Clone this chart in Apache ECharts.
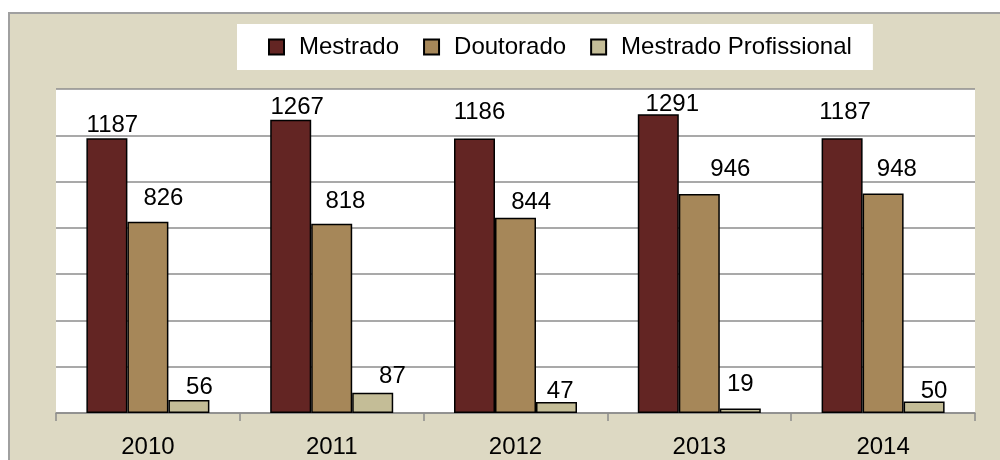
<!DOCTYPE html>
<html>
<head>
<meta charset="utf-8">
<script src="https://cdn.jsdelivr.net/npm/echarts@6/dist/echarts.min.js"></script>
<style>
html,body{margin:0;padding:0;background:#fff;}
#chart{width:1000px;height:460px;}
</style>
</head>
<body>
<div id="chart"></div>
<script>
// ---- data ----
const categories = ['2010', '2011', '2012', '2013', '2014'];
const seriesNames = ['Mestrado', 'Doutorado', 'Mestrado Profissional'];
const mestrado = [1187, 1267, 1186, 1291, 1187];
const doutorado = [826, 818, 844, 946, 948];
const mestradoProf = [56, 87, 47, 19, 50];

// ---- styling / layout (not data) ----
const colors = ['#632523', '#a68759', '#c4bd97'];
const FONT = "'Liberation Sans', Arial, sans-serif";
const FS = 24;
// label shifts [dx, gap above bar] in px, as placed in the original
const labelShifts = [
  [[5.5, 6], [6.5, 5.4], [5, 19], [14, 2], [3, 19]],
  [[15.5, 15.6], [13.7, 15], [15.7, 8.3], [31, 17.6], [13.7, 17.3]],
  [[10.5, 5], [19.7, 9], [3.7, 3.3], [0, 17], [10, 2.3]]
];

const values = [mestrado, doutorado, mestradoProf];

const series = values.map((vals, s) => ({
  name: seriesNames[s],
  type: 'bar',
  barWidth: 41,
  barGap: '0%',
  itemStyle: { color: colors[s], borderColor: '#000', borderWidth: 1.5 },
  label: {
    show: true,
    position: 'top',
    distance: 0,
    color: '#000',
    fontFamily: FONT,
    fontSize: FS
  },
  data: vals.map((v, i) => ({
    value: v,
    label: { offset: [labelShifts[s][i][0], 4.6 - labelShifts[s][i][1]] }
  }))
}));

const chart = echarts.init(document.getElementById('chart'), null, { renderer: 'canvas' });
chart.setOption({
  animation: false,
  backgroundColor: '#ffffff',
  graphic: [{
    type: 'rect',
    z: -100,
    shape: { x: 9, y: 13, width: 1000, height: 460 },
    style: { fill: '#ddd9c3', stroke: '#a0a0a0', lineWidth: 2 }
  }],
  legend: {
    left: 237,
    top: 24,
    backgroundColor: '#ffffff',
    padding: [11, 21, 11, 31],
    itemWidth: 15,
    itemHeight: 15,
    itemGap: 24,
    icon: 'rect',
    textStyle: { fontFamily: FONT, fontSize: FS, color: '#000', padding: [0, 0, 0, 10] },
    data: seriesNames
  },
  grid: {
    left: 56,
    right: 25,
    top: 89,
    bottom: 47,
    show: true,
    backgroundColor: '#ffffff',
    borderWidth: 0
  },
  xAxis: {
    type: 'category',
    data: categories,
    boundaryGap: true,
    axisLine: { show: true, lineStyle: { color: '#8c8c8c', width: 1.5 } },
    axisTick: { show: true, length: 8, alignWithLabel: false, lineStyle: { color: '#8c8c8c', width: 1.5 } },
    axisLabel: { color: '#000', fontFamily: FONT, fontSize: FS, margin: 22 }
  },
  yAxis: {
    type: 'value',
    min: 0,
    max: 1400,
    interval: 200,
    axisLine: { show: false },
    axisTick: { show: false },
    axisLabel: { show: false },
    splitLine: { show: true, lineStyle: { color: '#8c8c8c', width: 1.5 } }
  },
  series: series
});
</script>
</body>
</html>
